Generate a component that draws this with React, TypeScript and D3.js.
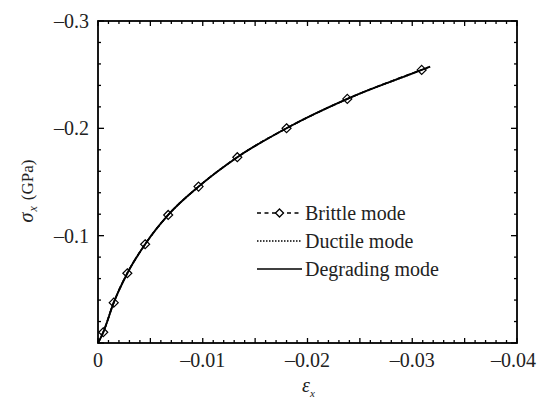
import React from "react";
import * as d3 from "d3";

// Stress–strain response for three failure modes (values in GPa / strain)
const brittleStrain = [0, -0.0005, -0.0015, -0.0028, -0.0045, -0.0067, -0.0096, -0.0133, -0.018, -0.0238, -0.0309];
const brittleStress = [0, -0.01, -0.0376, -0.065, -0.092, -0.1193, -0.1457, -0.1731, -0.2001, -0.2274, -0.2544];

const ductileStrain = [0, -0.0005, -0.0015, -0.0028, -0.0045, -0.0067, -0.0096, -0.0133, -0.018, -0.0238, -0.0309, -0.0317];
const ductileStress = [0, -0.01, -0.0376, -0.065, -0.092, -0.1193, -0.1457, -0.1731, -0.2001, -0.2274, -0.2544, -0.2575];

const degradingStrain = [0, -0.0005, -0.0015, -0.0028, -0.0045, -0.0067, -0.0096, -0.0133, -0.018, -0.0238, -0.0309, -0.0317];
const degradingStress = [0, -0.01, -0.0376, -0.065, -0.092, -0.1193, -0.1457, -0.1731, -0.2001, -0.2274, -0.2544, -0.2575];

const xTickLabels = [0, -0.01, -0.02, -0.03, -0.04];
const yTickLabels = [-0.1, -0.2, -0.3];
const legendLabels = ["Brittle mode", "Ductile mode", "Degrading mode"];

const W = 537;
const H = 399;
const serif = { fontFamily: '"Liberation Serif", "Times New Roman", serif' };

const x = d3.scaleLinear().domain([0, -0.04]).range([98, 517]);
const y = d3.scaleLinear().domain([0, -0.3]).range([343, 21]);

const fmt = (v: number) => (v === 0 ? "0" : "\u2013" + d3.format(".2f")(Math.abs(v)));
const fmtY = (v: number) => "\u2013" + d3.format(".1f")(Math.abs(v));

const lineGen = d3
  .line<[number, number]>()
  .x((d) => x(d[0]))
  .y((d) => y(d[1]))
  .curve(d3.curveMonotoneX);

const zip = (a: number[], b: number[]): [number, number][] => a.map((v, i) => [v, b[i]]);

const diamond = (cx: number, cy: number, r: number) =>
  `M${cx},${cy - r}L${cx + r},${cy}L${cx},${cy + r}L${cx - r},${cy}Z`;

export default function App() {
  const [x0, x1] = x.range();
  const [y0, y1] = y.range();

  const xMinor = d3.range(0, 41).map((i) => ({ v: -i * 0.001, big: i % 5 === 0 }));
  const yMinor = d3.range(0, 16).map((i) => ({ v: -i * 0.02, big: i % 5 === 0 }));

  const legendRows = [213, 241, 269];
  const lx0 = 257;
  const lx1 = 302;

  return (
    <svg width={W} height={H} style={{ position: "absolute", left: 0, top: 0, background: "#fff" }}>
      <rect width={W} height={H} fill="#fff" />

      {/* ticks on all four sides, pointing inward */}
      <g stroke="#000" strokeWidth={1.3}>
        {xMinor.map((t, i) => {
          const len = t.big ? 5 : 3;
          const px = x(t.v);
          return (
            <g key={"xt" + i}>
              <line x1={px} x2={px} y1={y0} y2={y0 - len} />
              <line x1={px} x2={px} y1={y1} y2={y1 + len} />
            </g>
          );
        })}
        {yMinor.map((t, i) => {
          const len = t.big ? 6 : 3;
          const py = y(t.v);
          return (
            <g key={"yt" + i}>
              <line x1={x0} x2={x0 + len} y1={py} y2={py} />
              <line x1={x1} x2={x1 - len} y1={py} y2={py} />
            </g>
          );
        })}
      </g>

      {/* frame */}
      <rect x={x0} y={y1} width={x1 - x0} height={y0 - y1} fill="none" stroke="#000" strokeWidth={1.8} />

      {/* tick labels */}
      <g fontSize={20} fill="#222">
        {xTickLabels.map((v, i) => {
          const last = i === xTickLabels.length - 1;
          return (
            <text key={"xl" + v} x={last ? 536 : x(v)} y={367} textAnchor={last ? "end" : "middle"} style={serif}>
              {fmt(v)}
            </text>
          );
        })}
        {yTickLabels.map((v) => (
          <text key={"yl" + v} x={89} y={y(v) + 7} textAnchor="end" style={serif}>
            {fmtY(v)}
          </text>
        ))}
      </g>

      {/* axis titles */}
      <text x={302} y={392} fontSize={20} fill="#222" style={serif}>
        <tspan fontStyle="italic">ε</tspan>
        <tspan fontStyle="italic" fontSize={11} dy={5}>x</tspan>
      </text>
      <text transform="translate(33,191) rotate(-90)" textAnchor="middle" fontSize={20} fill="#222" style={serif}>
        <tspan fontStyle="italic">σ</tspan>
        <tspan fontStyle="italic" fontSize={12} dx={1} dy={4}>x</tspan>
        <tspan fontSize={17} dx={6} dy={-4}>(GPa)</tspan>
      </text>

      {/* curves */}
      <path d={lineGen(zip(ductileStrain, ductileStress)) || ""} fill="none" stroke="#000" strokeWidth={1.6} strokeDasharray="1.5,1.5" />
      <path d={lineGen(zip(brittleStrain, brittleStress)) || ""} fill="none" stroke="#000" strokeWidth={1.6} strokeDasharray="5,3" />
      <path d={lineGen(zip(degradingStrain, degradingStress)) || ""} fill="none" stroke="#000" strokeWidth={1.9} />
      {brittleStrain.slice(1).map((s, i) => (
        <path
          key={"m" + i}
          d={diamond(x(s), y(brittleStress[i + 1]), 4.5)}
          fill="none"
          stroke="#000"
          strokeWidth={1.2}
        />
      ))}

      {/* legend */}
      <g>
        <line x1={lx0} x2={lx1} y1={legendRows[0]} y2={legendRows[0]} stroke="#000" strokeWidth={1.4} strokeDasharray="4,3.5" />
        <path d={diamond((lx0 + lx1) / 2, legendRows[0], 4)} fill="#fff" stroke="#000" strokeWidth={1.3} />
        <line x1={lx0} x2={lx1} y1={legendRows[1]} y2={legendRows[1]} stroke="#000" strokeWidth={1.3} strokeDasharray="1.5,1.5" />
        <line x1={lx0} x2={lx1} y1={legendRows[2]} y2={legendRows[2]} stroke="#000" strokeWidth={1.5} />
        {legendLabels.map((l, i) => (
          <text key={l} x={305} y={legendRows[i] + 7} fontSize={20} fill="#222" style={serif}>
            {l}
          </text>
        ))}
      </g>
    </svg>
  );
}
